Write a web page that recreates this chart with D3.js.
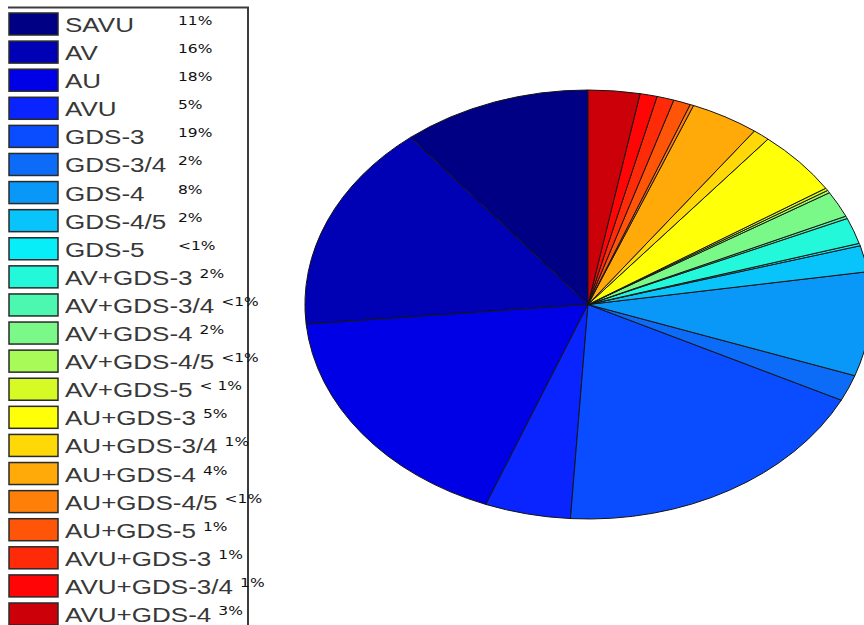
<!DOCTYPE html>
<html>
<head>
<meta charset="utf-8">
<script src="https://cdn.jsdelivr.net/npm/d3@7/dist/d3.min.js"></script>
<style>
  html, body { margin: 0; padding: 0; background: #fff; }
  svg { display: block; }
</style>
</head>
<body>
<svg id="chart" width="864" height="625"></svg>
<script>
// Lesion categories, in pie order (counter-clockwise from 12 o'clock)
const categories = [
  "SAVU", "AV", "AU", "AVU", "GDS-3", "GDS-3/4", "GDS-4", "GDS-4/5", "GDS-5",
  "AV+GDS-3", "AV+GDS-3/4", "AV+GDS-4", "AV+GDS-4/5", "AV+GDS-5",
  "AU+GDS-3", "AU+GDS-3/4", "AU+GDS-4", "AU+GDS-4/5", "AU+GDS-5",
  "AVU+GDS-3", "AVU+GDS-3/4", "AVU+GDS-4"
];

// Share of cases per category (percent); "<1%" entries taken as 0.2
const shares = [11, 16, 18, 5, 19, 2, 8, 2, 0.2, 2, 0.2, 2, 0.2, 0.2, 5, 1, 4, 0.2, 1, 1, 1, 3];

// Percent annotations printed next to the legend entries
const shareLabels = [
  "11%", "16%", "18%", "5%", "19%", "2%", "8%", "2%", "<1%",
  "2%", "<1%", "2%", "<1%", "< 1%",
  "5%", "1%", "4%", "<1%", "1%",
  "1%", "1%", "3%"
];

// Jet-style colour ramp, one colour per category
const colors = [
  "#000084", "#0000b4", "#0000e6", "#0a24ff", "#0a4cff", "#0c6cf8",
  "#0a98f8", "#08c4fa", "#08eef8", "#24f8da", "#4cf8b0", "#7af888",
  "#a8fa58", "#d6fa24", "#ffff08", "#ffd808", "#ffaa08", "#ff8008",
  "#ff5508", "#ff2a08", "#ff0505", "#cc0008"
];

const svg = d3.select("#chart");
const stretchX = 1.24;

// ---------- pie (elliptical) ----------
const cx = 588, cy = 304.5, rx = 283, ry = 214.5;
const pie = d3.pie().sort(null).value(d => d)
  .startAngle(0).endAngle(-2 * Math.PI);
const arc = d3.arc().innerRadius(0).outerRadius(1);
const color = d3.scaleOrdinal().domain(categories).range(colors);

const pieG = svg.append("g")
  .attr("transform", `translate(${cx},${cy}) scale(${rx},${ry})`);

pieG.selectAll("path")
  .data(pie(shares))
  .join("path")
  .attr("d", arc)
  .attr("fill", (d, i) => color(categories[i]))
  .attr("stroke", "#141414")
  .attr("stroke-width", 1)
  .attr("vector-effect", "non-scaling-stroke");

// ---------- legend ----------
const rowY = d3.scaleLinear().domain([0, categories.length - 1]).range([13, 603]);
const swX = 9, swW = 49, swH = 22;

const legend = svg.append("g");

// legend frame (top and right edges)
legend.append("path")
  .attr("d", `M8,7.5 H248 V640`)
  .attr("fill", "none")
  .attr("stroke", "#3c3c3c")
  .attr("stroke-width", 2);

const rows = legend.selectAll("g.row")
  .data(categories)
  .join("g")
  .attr("class", "row")
  .attr("transform", (d, i) => `translate(0,${rowY(i)})`);

rows.append("rect")
  .attr("x", swX).attr("y", 0)
  .attr("width", swW).attr("height", swH)
  .attr("fill", d => color(d))
  .attr("stroke", "#2a2a2a")
  .attr("stroke-width", 1.5);

const labelG = rows.append("g")
  .attr("transform", `translate(65,19) scale(${stretchX},1)`);

labelG.append("text")
  .attr("class", "lbl")
  .attr("x", 0).attr("y", 0)
  .attr("font-family", "'Liberation Sans', Arial, sans-serif")
  .attr("font-size", 21)
  .attr("fill", "#383838")
  .text(d => d);

rows.each(function(d, i) {
  const row = d3.select(this);
  const w = row.select("text.lbl").node().getComputedTextLength() * stretchX;
  const px = Math.max(65 + w + 7, 178);
  row.append("g")
    .attr("transform", `translate(${px},${swH / 2 + 1}) scale(${stretchX},1)`)
    .append("text")
    .attr("font-family", "'DejaVu Sans', Verdana, sans-serif")
    .attr("font-size", 12.5)
    .attr("fill", "#111")
    .text(shareLabels[i]);
});
</script>
</body>
</html>
